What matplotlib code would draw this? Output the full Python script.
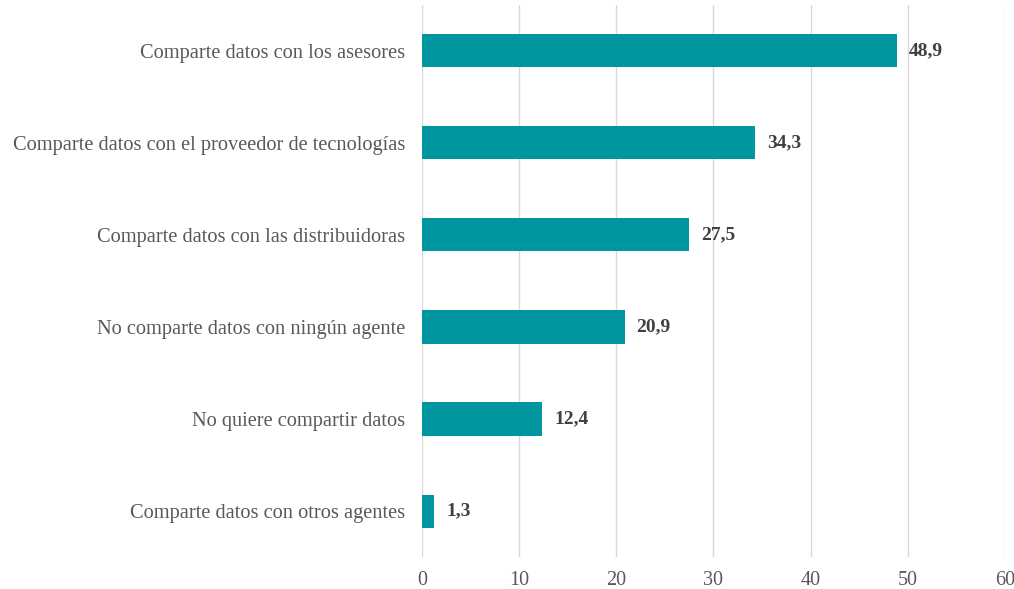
import matplotlib.pyplot as plt

# Share of respondents by data-sharing behaviour (%)
categories = [
    "Comparte datos con los asesores",
    "Comparte datos con el proveedor de tecnologías",
    "Comparte datos con las distribuidoras",
    "No comparte datos con ningún agente",
    "No quiere compartir datos",
    "Comparte datos con otros agentes",
]
values = [48.9, 34.3, 27.5, 20.9, 12.4, 1.3]
xticks = [0, 10, 20, 30, 40, 50, 60]

plt.rcParams['font.family'] = ['Liberation Serif', 'DejaVu Serif']

fig = plt.figure(figsize=(10.14, 5.89), dpi=100)
ax = fig.add_axes([0.416, 0.054, 0.575, 0.938])

pos = list(range(len(categories)))
ax.barh(pos, values, height=0.36, color='#0096a0', zorder=3)

for y, v in zip(pos, values):
    ax.text(v + 1.2, y, f"{v:.1f}".replace('.', ','), va='center', ha='left',
            fontsize=14, fontweight='bold', color='#404040')

ax.set_ylim(len(categories) - 0.5, -0.5)
ax.set_xlim(0, 60)
ax.set_xticks(xticks)
ax.set_yticks(pos)
ax.set_yticklabels(categories)
ax.tick_params(axis='y', length=0, pad=12, labelsize=14.7, labelcolor='#595959')
ax.tick_params(axis='x', length=0, pad=10, labelsize=14.5, labelcolor='#595959')
ax.grid(axis='x', color='#d9d9d9', linewidth=1, zorder=0)
for s in ax.spines.values():
    s.set_visible(False)

fig.savefig('out.png', dpi=100)
